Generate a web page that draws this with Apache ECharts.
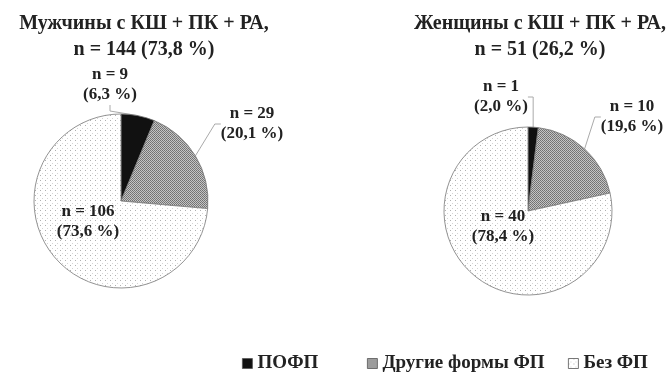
<!DOCTYPE html>
<html><head><meta charset="utf-8">
<script src="https://cdn.jsdelivr.net/npm/echarts@6/dist/echarts.min.js"></script>
<style>html,body{margin:0;padding:0;background:#fff}#c{width:672px;height:372px}</style>
</head><body><div id="c"></div>
<script>
const categories = ['ПОФП', 'Другие формы ФП', 'Без ФП'];
const menValues = [9, 29, 106];
const womenValues = [1, 10, 40];
const menTitle = 'Мужчины с КШ + ПК + РА,\nn = 144 (73,8 %)';
const womenTitle = 'Женщины с КШ + ПК + РА,\nn = 51 (26,2 %)';

function makePattern(size, bg, dots) {
  const cv = document.createElement('canvas');
  cv.width = size; cv.height = size;
  const ctx = cv.getContext('2d');
  ctx.fillStyle = bg; ctx.fillRect(0, 0, size, size);
  dots.forEach(d => { ctx.fillStyle = d[2]; ctx.fillRect(d[0], d[1], 1, 1); });
  return { image: cv, repeat: 'repeat' };
}
const grayPat = makePattern(2, '#c4c4c4', [[0,0,'#707070'],[1,1,'#7a7a7a']]);
const whitePat = makePattern(5, '#ffffff', [[0,0,'#b0b0b0'],[2,3,'#d4d4d4']]);
const fills = ['#111111', grayPat, whitePat];

const FONT = 'Liberation Serif';

function buildData(vals) {
  return vals.map((v, i) => ({
    name: categories[i], value: v,
    itemStyle: { color: fills[i] },
    label: i === 2 ? { position: 'inside' } : { position: 'outside' },
    labelLine: { show: i !== 2 }
  }));
}
function fmt(vals) {
  const total = vals.reduce((a, b) => a + b, 0);
  return p => 'n = ' + p.value + '\n(' + (p.value / total * 100).toFixed(1).replace('.', ',') + ' %)';
}

const labelPos = {
  0: { 0: [110, 85], 1: [252, 124], 2: [88, 222] },
  1: { 0: [501, 97], 1: [632, 117], 2: [503, 227] }
};

function series(vals, center, radius, si) {
  return {
    type: 'pie', center: center, radius: radius, startAngle: 90, clockwise: true,
    data: buildData(vals),
    itemStyle: { borderColor: '#777', borderWidth: 0.8 },
    label: {
      formatter: fmt(vals), fontFamily: FONT, fontWeight: 'bold', fontSize: 17,
      lineHeight: 20, color: '#222', align: 'center', overflow: 'none', edgeDistance: 0
    },
    labelLine: { length: 8, length2: 6, lineStyle: { color: '#aaa', width: 1 } },
    labelLayout: function (p) {
      const pos = labelPos[si][p.dataIndex];
      return { x: pos[0], y: pos[1], align: 'center', verticalAlign: 'middle' };
    },
    emphasis: { disabled: true }, silent: true, animation: false
  };
}

const titleStyle = { fontFamily: FONT, fontWeight: 'bold', fontSize: 20, lineHeight: 26, color: '#222', align: 'center' };
const legendStarts = [242, 367, 568];

const chart = echarts.init(document.getElementById('c'), null, { renderer: 'canvas' });
chart.setOption({
  animation: false,
  backgroundColor: '#fff',
  title: [
    { text: menTitle, left: 139, top: 6, textAlign: 'center', textStyle: titleStyle },
    { text: womenTitle, left: 535, top: 6, textAlign: 'center', textStyle: titleStyle }
  ],
  legend: categories.map((c, i) => ({
    data: [c], left: legendStarts[i] - 5, top: 349, itemWidth: 10, itemHeight: 10,
    icon: 'rect', selectedMode: false,
    itemStyle: { borderColor: '#555', borderWidth: 0.8 },
    textStyle: { fontFamily: FONT, fontWeight: 'bold', fontSize: 19, color: '#222' }
  })),
  series: [
    series(menValues, [121, 201], 87, 0),
    series(womenValues, [528, 211], 84, 1)
  ]
});
</script></body></html>
